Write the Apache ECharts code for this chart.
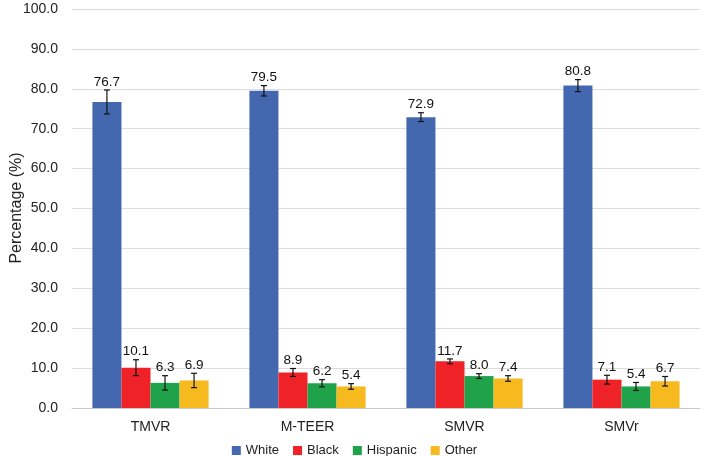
<!DOCTYPE html>
<html><head><meta charset="utf-8">
<script src="https://cdn.jsdelivr.net/npm/echarts@6/dist/echarts.min.js"></script>
<style>html,body{margin:0;padding:0;background:#fff}#c{width:709px;height:456px}</style>
</head><body><div id="c"></div>
<script>
var categories = ['TMVR', 'M-TEER', 'SMVR', 'SMVr'];
var seriesNames = ['White', 'Black', 'Hispanic', 'Other'];
var white = [76.7, 79.5, 72.9, 80.8];
var black = [10.1, 8.9, 11.7, 7.1];
var hispanic = [6.3, 6.2, 8.0, 5.4];
var other = [6.9, 5.4, 7.4, 6.7];
var whiteErr = [3.0, 1.3, 1.1, 1.5];
var blackErr = [2.0, 1.0, 0.6, 1.1];
var hispanicErr = [1.8, 0.9, 0.6, 1.0];
var otherErr = [1.8, 0.7, 0.7, 1.2];
var yTicks = [0, 10, 20, 30, 40, 50, 60, 70, 80, 90, 100];
var yTitle = 'Percentage (%)';

var values = [white, black, hispanic, other];
var errs = [whiteErr, blackErr, hispanicErr, otherErr];
var colors = ['#4468B0', '#EE2227', '#1FA24A', '#F7BA1E'];
var gapFrac = 0.26;
var font = 'Liberation Sans, Arial, sans-serif';

var series = [];
seriesNames.forEach(function (n, i) {
  series.push({
    name: n, type: 'bar', data: values[i], barGap: '0%', barCategoryGap: '26%',
    itemStyle: { color: colors[i] }, z: 2
  });
});
seriesNames.forEach(function (n, i) {
  var data = values[i].map(function (v, j) { return [j, v, v - errs[i][j], v + errs[i][j]]; });
  series.push({
    name: n + ' err', type: 'custom', z: 5, silent: true,
    data: data,
    encode: { x: 0, y: [2, 3] },
    renderItem: function (params, api) {
      var c = api.value(0);
      var v = api.value(1);
      var bw = api.size([1, 0])[0];
      var barW = bw * (1 - gapFrac) / 4;
      var off = (i - 1.5) * barW;
      var lo = api.coord([c, api.value(2)]);
      var hi = api.coord([c, api.value(3)]);
      var x = lo[0] + off;
      var cap = 3;
      var st = { stroke: '#111', lineWidth: 1.2 };
      return {
        type: 'group', children: [
          { type: 'line', shape: { x1: x, y1: lo[1], x2: x, y2: hi[1] }, style: st },
          { type: 'line', shape: { x1: x - cap, y1: lo[1], x2: x + cap, y2: lo[1] }, style: st },
          { type: 'line', shape: { x1: x - cap, y1: hi[1], x2: x + cap, y2: hi[1] }, style: st },
          { type: 'text', style: { x: x, y: hi[1] - 1, text: v.toFixed(1), align: 'center', verticalAlign: 'bottom', fill: '#111', font: '13.5px ' + font } }
        ]
      };
    }
  });
});

var chart = echarts.init(document.getElementById('c'));
chart.setOption({
  animation: false,
  grid: { left: 72, right: 9, top: 9, bottom: 48, containLabel: false, outerBoundsMode: 'none' },
  graphic: [{
    type: 'text', x: 17, y: 208, rotation: Math.PI / 2, z: 10,
    style: { text: yTitle, align: 'center', verticalAlign: 'middle', fill: '#222', font: '16px ' + font }
  }],
  legend: {
    data: seriesNames, top: 439, left: 'center', itemWidth: 9, itemHeight: 9, itemGap: 14,
    icon: 'rect', textStyle: { fontFamily: font, fontSize: 13, color: '#222' }
  },
  xAxis: {
    type: 'category', data: categories,
    axisLine: { lineStyle: { color: '#c8c8c8' } }, axisTick: { show: false },
    axisLabel: { fontFamily: font, fontSize: 14, color: '#222', margin: 12 }
  },
  yAxis: {
    type: 'value', min: yTicks[0], max: yTicks[yTicks.length - 1], interval: 10,
    axisLabel: { fontFamily: font, fontSize: 14, color: '#222', formatter: function (v) { return v.toFixed(1); }, margin: 14 },
    splitLine: { lineStyle: { color: '#dcdcdc' } }
  },
  series: series
});
</script></body></html>
